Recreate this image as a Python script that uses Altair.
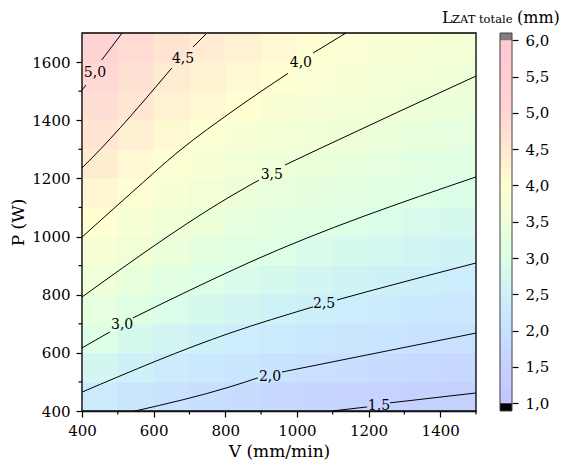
import altair as alt
import pandas as pd

# ---------------- data ----------------
V_EDGES = [400, 500, 600, 700, 800, 900, 1000, 1100, 1200, 1300, 1400, 1500]
P_EDGES = [400, 500, 600, 700, 800, 900, 1000, 1100, 1200, 1300, 1400, 1500, 1600, 1700]
# L_ZAT totale (mm) per cell, rows from P=400-500 (bottom) upward, columns V=400-500 ... 1400-1500
L_GRID = [
    [2.34, 2.18, 2.06, 1.96, 1.84, 1.76, 1.69, 1.62, 1.57, 1.52, 1.49],
    [2.69, 2.53, 2.38, 2.25, 2.15, 2.07, 2.01, 1.93, 1.85, 1.79, 1.74],
    [3.00, 2.81, 2.66, 2.53, 2.41, 2.32, 2.24, 2.17, 2.11, 2.05, 1.99],
    [3.27, 3.09, 2.92, 2.77, 2.65, 2.56, 2.48, 2.40, 2.33, 2.26, 2.20],
    [3.54, 3.34, 3.16, 3.01, 2.88, 2.78, 2.69, 2.61, 2.54, 2.48, 2.41],
    [3.76, 3.57, 3.39, 3.23, 3.09, 3.00, 2.90, 2.81, 2.73, 2.66, 2.60],
    [3.99, 3.77, 3.59, 3.44, 3.29, 3.18, 3.09, 3.01, 2.93, 2.84, 2.77],
    [4.19, 3.97, 3.77, 3.62, 3.48, 3.36, 3.26, 3.17, 3.10, 3.02, 2.95],
    [4.40, 4.15, 3.95, 3.79, 3.65, 3.53, 3.43, 3.34, 3.25, 3.17, 3.10],
    [4.58, 4.34, 4.12, 3.97, 3.82, 3.69, 3.58, 3.50, 3.41, 3.32, 3.25],
    [4.76, 4.52, 4.29, 4.12, 3.99, 3.86, 3.73, 3.64, 3.55, 3.48, 3.39],
    [4.93, 4.67, 4.45, 4.27, 4.14, 4.01, 3.89, 3.78, 3.69, 3.61, 3.53],
    [5.09, 4.82, 4.61, 4.42, 4.29, 4.16, 4.03, 3.92, 3.82, 3.74, 3.66],
]

# contour lines (V, P), split into segments around their labels
CONTOUR_50 = [[(400, 1504), (411, 1521)], [(455, 1607), (512, 1700)]]
CONTOUR_45 = [[(400, 1236), (422, 1263), (651, 1580)], [(710, 1652), (749, 1700)]]
CONTOUR_40 = [[(400, 998), (534, 1146), (674, 1297), (827, 1437), (975, 1561)], [(1045, 1631), (1137, 1700)]]
CONTOUR_35 = [[(400, 792), (869, 1177), (894, 1194)], [(967, 1246), (1056, 1298), (1500, 1552)]]
CONTOUR_30 = [[(400, 617), (478, 672)], [(542, 720), (702, 816), (869, 912), (1500, 1205)]]
CONTOUR_25 = [[(400, 465), (813, 668), (1045, 758)], [(1112, 782), (1213, 816), (1500, 909)]]
CONTOUR_20 = [[(548, 400), (813, 483), (891, 514)], [(958, 534), (1500, 668)]]
CONTOUR_15 = [[(1098, 400), (1196, 414)], [(1260, 428), (1500, 462)]]
CONTOURS = [CONTOUR_50, CONTOUR_45, CONTOUR_40, CONTOUR_35, CONTOUR_30, CONTOUR_25, CONTOUR_20, CONTOUR_15]

LABEL_TEXT = ["5,0", "4,5", "4,0", "3,5", "3,0", "2,5", "2,0", "1,5"]
LABEL_V = [436, 682, 1011, 930, 512, 1076, 925, 1229]
LABEL_P = [1562, 1610, 1597, 1212, 696, 768, 517, 417]

X_TICKS = [400, 600, 800, 1000, 1200, 1400]
X_MINOR = [500, 700, 900, 1100, 1300, 1500]
Y_TICKS = [400, 600, 800, 1000, 1200, 1400, 1600]
Y_MINOR = [500, 700, 900, 1100, 1300, 1500]

COLOR_STOPS = [1.0, 1.5, 2.0, 2.5, 3.0, 3.5, 4.0, 4.5, 5.0, 5.5, 6.0]
COLOR_HEX = ["#c4c4ff", "#c6d0ff", "#c8e1ff", "#cdf0fa", "#dcffe6", "#eeffd7",
             "#ffffd2", "#ffe8d2", "#ffd4d4", "#ffcdd4", "#ffc8d2"]
CB_TICKS = [1.0, 1.5, 2.0, 2.5, 3.0, 3.5, 4.0, 4.5, 5.0, 5.5, 6.0]
CB_RAMP = [round(1.0 + 0.05 * i, 2) for i in range(100)]  # colour ramp of the bar
CB_LOW, CB_HIGH = 0.894, 6.1   # ends of the bar including the out-of-range caps

FONT = "DejaVu Serif"
W, H = 394, 378

# ---------------- tables ----------------
cells = []
for i in range(len(P_EDGES) - 1):
    for j in range(len(V_EDGES) - 1):
        cells.append(dict(v0=V_EDGES[j], v1=V_EDGES[j + 1], p0=P_EDGES[i], p1=P_EDGES[i + 1], L=L_GRID[i][j]))
cell_df = pd.DataFrame(cells)

rows = []
for li, lev in enumerate(CONTOURS):
    for si, seg in enumerate(lev):
        for k, (v, p) in enumerate(seg):
            rows.append(dict(seg=f"{li}-{si}", i=k, V=v, P=p))
cont_df = pd.DataFrame(rows)
lab_df = pd.DataFrame(dict(t=LABEL_TEXT, V=LABEL_V, P=LABEL_P))
xminor_df = pd.DataFrame(dict(v=X_MINOR))
yminor_df = pd.DataFrame(dict(p=Y_MINOR))
cb_df = pd.DataFrame(dict(lo=CB_RAMP, hi=[round(v + 0.05, 2) for v in CB_RAMP],
                          mid=[round(v + 0.025, 3) for v in CB_RAMP]))
cap_df = pd.DataFrame(dict(lo=[CB_LOW, CB_TICKS[-1]], hi=[CB_TICKS[0], CB_HIGH], c=["black", "#7f7f7f"]))
bar_df = pd.DataFrame(dict(lo=[CB_LOW], hi=[CB_HIGH]))
one = pd.DataFrame(dict(a=[0]))

xs = alt.Scale(domain=[400, 1500], nice=False, zero=False)
ys = alt.Scale(domain=[400, 1700], nice=False, zero=False)
cs = alt.Scale(domain=COLOR_STOPS, range=COLOR_HEX, interpolate="rgb")
cbs = alt.Scale(domain=[CB_LOW, CB_HIGH], nice=False, zero=False)

X_TITLE = "V (mm/min)"
X_AXIS = alt.Axis(values=X_TICKS, format="d", labelFlush=False, labelOverlap=False,
                  tickSize=6, labelPadding=6, titlePadding=5)


def xenc(field):
    return alt.X(field, scale=xs, title=X_TITLE, axis=X_AXIS)


heat = alt.Chart(cell_df).mark_rect(strokeWidth=0.6).encode(
    x=xenc("v0:Q"),
    x2="v1:Q",
    y=alt.Y("p0:Q", scale=ys, title="P (W)",
            axis=alt.Axis(values=Y_TICKS, format="d", labelFlush=False, labelOverlap=False,
                          tickSize=6, labelPadding=6, titlePadding=4)),
    y2="p1:Q",
    color=alt.Color("L:Q", scale=cs, legend=None),
    stroke=alt.Stroke("L:Q", scale=cs, legend=None),
)

lines = alt.Chart(cont_df).mark_line(color="black", strokeWidth=1, interpolate="monotone").encode(
    x=xenc("V:Q"),
    y=alt.Y("P:Q", scale=ys, axis=None),
    detail="seg:N",
    order="i:Q",
)

labels = alt.Chart(lab_df).mark_text(font=FONT, fontSize=14, color="black", baseline="middle").encode(
    x=xenc("V:Q"),
    y=alt.Y("P:Q", scale=ys, axis=None),
    text="t:N",
)

xminor = alt.Chart(xminor_df).mark_rule(color="black", strokeWidth=1.2).encode(
    x=xenc("v:Q"), y=alt.value(H), y2=alt.value(H + 3.5))
yminor = alt.Chart(yminor_df).mark_rule(color="black", strokeWidth=1.2).encode(
    y=alt.Y("p:Q", scale=ys, axis=None), x=alt.value(-3.5), x2=alt.value(0))

frame = alt.Chart(one).mark_rect(filled=False, stroke="black", strokeWidth=1.3).encode(
    x=alt.value(0), x2=alt.value(W), y=alt.value(0), y2=alt.value(H))

t_L = alt.Chart(one).mark_text(font=FONT, fontSize=16, align="left", baseline="alphabetic", color="black").encode(
    x=alt.value(360), y=alt.value(-10), text=alt.value("L"))
t_sub = alt.Chart(one).mark_text(font=FONT, fontSize=11.5, align="left", baseline="alphabetic", color="black").encode(
    x=alt.value(370), y=alt.value(-10), text=alt.value("ZAT totale"))
t_mm = alt.Chart(one).mark_text(font=FONT, fontSize=16, align="left", baseline="alphabetic", color="black").encode(
    x=alt.value(435), y=alt.value(-10), text=alt.value("(mm)"))

cb_cells = alt.Chart(cb_df).mark_rect(strokeWidth=0.6).encode(
    x=alt.value(418), x2=alt.value(430),
    y=alt.Y("lo:Q", scale=cbs, title=None,
            axis=alt.Axis(orient="right", offset=36, values=CB_TICKS, domain=False, tickSize=6,
                          labelPadding=7, labelFlush=False, labelOverlap=False,
                          labelExpr="replace(format(datum.value, '.1f'), '.', ',')")),
    y2="hi:Q",
    color=alt.Color("mid:Q", scale=cs, legend=None),
    stroke=alt.Stroke("mid:Q", scale=cs, legend=None),
)
cb_caps = alt.Chart(cap_df).mark_rect().encode(
    x=alt.value(418), x2=alt.value(430),
    y=alt.Y("lo:Q", scale=cbs, axis=None), y2="hi:Q",
    fill=alt.Fill("c:N", scale=None),
)
cb_border = alt.Chart(bar_df).mark_rect(filled=False, stroke="#444444", strokeWidth=1).encode(
    x=alt.value(418), x2=alt.value(430),
    y=alt.Y("lo:Q", scale=cbs, axis=None), y2="hi:Q")

chart = alt.layer(
    heat, lines, labels, xminor, yminor, frame, t_L, t_sub, t_mm,
    cb_cells, cb_caps, cb_border,
).resolve_scale(y="independent").properties(
    width=W, height=H,
    autosize=alt.AutoSizeParams(type="none"),
    padding={"left": 74, "top": 25, "right": 85, "bottom": 51},
).configure_view(stroke=None).configure_axis(
    labelFont=FONT, titleFont=FONT, labelFontSize=15, titleFontSize=17,
    labelColor="black", titleColor="black", domainColor="black", tickColor="black",
    domainWidth=1.3, tickWidth=1.2, grid=False, titleFontWeight="normal",
)

chart.save("out.html", embed_options={"renderer": "svg", "actions": False})
